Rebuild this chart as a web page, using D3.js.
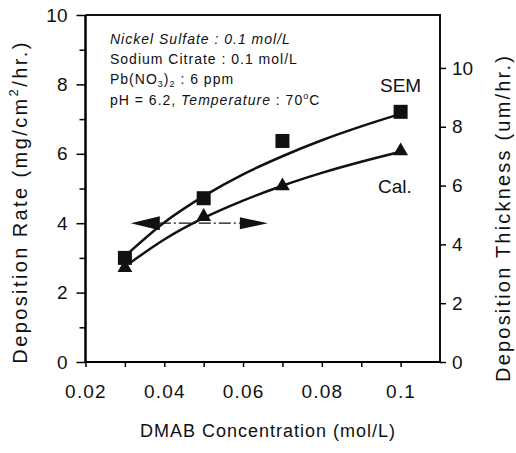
<!DOCTYPE html>
<html>
<head>
<meta charset="utf-8">
<script src="https://cdn.jsdelivr.net/npm/d3@7"></script>
<style>
  body { margin: 0; background: #fff; }
  svg { display: block; }
  text { font-family: "Liberation Sans", Arial, Helvetica, sans-serif; fill: #111; }
</style>
</head>
<body>
<div id="chart"></div>
<script>
// DMAB concentration of the measured points (mol/L)
var conc = [0.03, 0.05, 0.07, 0.1];
// measured deposition rate (mg/cm2/hr.)
var semRate = [3.0, 4.72, 6.37, 7.21];
var calRate = [2.72, 4.19, 5.07, 6.08];

// fitted curves
var fitConc = [0.031, 0.04, 0.05, 0.06, 0.07, 0.08, 0.09, 0.1];
var semFit = [3.15, 4.02, 4.78, 5.41, 5.93, 6.39, 6.79, 7.15];
var calFit = [2.83, 3.53, 4.15, 4.65, 5.08, 5.45, 5.77, 6.06];

// tick values
var xTicks = [0.02, 0.03, 0.04, 0.05, 0.06, 0.07, 0.08, 0.09, 0.1];
var xLabels = [0.02, 0.04, 0.06, 0.08, 0.1];
var leftTicks = [0, 2, 4, 6, 8, 10];
var leftMinor = [1, 3, 5, 7, 9];
var rightTicks = [0, 2, 4, 6, 8, 10];

// double-headed arrow at rate 4 (conc range)
var arrowConc = [0.0315, 0.0663];
var arrowRate = 4;

var notes = ["Nickel Sulfate : 0.1 mol/L", "Sodium Citrate : 0.1 mol/L"];

var width = 516, height = 453;
var svg = d3.select("#chart").append("svg")
    .attr("width", width)
    .attr("height", height);

var x = d3.scaleLinear().domain([0.02, 0.11]).range([85.5, 440]);
var y = d3.scaleLinear().domain([0, 10]).range([362, 15]);
var y2 = d3.scaleLinear().domain([0, 11.8]).range([362, 15]);

//frame
svg.append("path")
    .attr("d", "M" + x(0.02) + "," + y(10) + "H" + x(0.11) + "V" + y(0))
    .attr("fill", "none")
    .attr("stroke", "#111")
    .attr("stroke-width", 2);

//bottom axis
var xAxis = svg.append("g")
    .attr("transform", "translate(0," + y(0) + ")")
    .call(d3.axisBottom(x).tickValues(xTicks).tickSize(5).tickPadding(18)
        .tickFormat(function(d) { return xLabels.some(function(v) { return Math.abs(v - d) < 1e-9; }) ? d3.format("~g")(d) : ""; }))
xAxis.select(".domain").attr("d", "M" + x(0.02) + ",0H" + x(0.11)).attr("stroke-width", 2);
xAxis.selectAll(".tick line").attr("stroke-width", 1.5);
xAxis.selectAll("text").attr("font-size", 19).attr("letter-spacing", 1.2).attr("fill", "#111");

//left axis
var yMinor = svg.append("g")
    .attr("transform", "translate(" + x(0.02) + ",0)")
    .call(d3.axisLeft(y).tickValues(leftMinor).tickSize(6).tickFormat(""));
yMinor.select(".domain").remove();
yMinor.selectAll(".tick line").attr("stroke-width", 1.5);

var yAxis = svg.append("g")
    .attr("transform", "translate(" + x(0.02) + ",0)")
    .call(d3.axisLeft(y).tickValues(leftTicks).tickSize(9).tickPadding(9));
yAxis.select(".domain").attr("d", "M0," + y(0) + "V" + y(10)).attr("stroke-width", 2.5);
yAxis.selectAll(".tick line").attr("stroke-width", 1.5);
yAxis.selectAll("text").attr("font-size", 19).attr("fill", "#111");

//right axis
var yAxis2 = svg.append("g")
    .attr("transform", "translate(" + x(0.11) + ",0)")
    .call(d3.axisRight(y2).tickValues(rightTicks).tickSize(6).tickPadding(6));
yAxis2.select(".domain").remove();
yAxis2.selectAll(".tick line").attr("stroke-width", 1.5);
yAxis2.selectAll("text").attr("font-size", 19).attr("fill", "#111");

//axis titles
svg.append("text")
    .attr("transform", "translate(268,437)")
    .attr("text-anchor", "middle")
    .attr("font-size", 18)
    .attr("letter-spacing", 1)
    .text("DMAB Concentration (mol/L)");

var lt = svg.append("text")
    .attr("transform", "translate(27,202) rotate(-90)")
    .attr("text-anchor", "middle")
    .attr("font-size", 20)
    .attr("letter-spacing", 2.4);
lt.append("tspan").text("Deposition Rate (mg/cm");
lt.append("tspan").attr("font-size", 13).attr("dy", -9).text("2");
lt.append("tspan").attr("dy", 9).text("/hr.)");

svg.append("text")
    .attr("transform", "translate(510,218) rotate(-90)")
    .attr("text-anchor", "middle")
    .attr("font-size", 20)
    .attr("letter-spacing", 2.2)
    .text("Deposition Thickness (um/hr.)");

//curves
var line = d3.line()
    .x(function(d) { return x(d[0]); })
    .y(function(d) { return y(d[1]); })
    .curve(d3.curveMonotoneX);

[semFit, calFit].forEach(function(s) {
    svg.append("path")
        .datum(fitConc.map(function(c, i) { return [c, s[i]]; }))
        .attr("fill", "none")
        .attr("stroke", "#111")
        .attr("stroke-width", 2.5)
        .attr("d", line);
});

//markers
svg.selectAll("path.tri")
    .data(conc.map(function(c, i) { return [c, calRate[i]]; }))
    .enter().append("path")
    .attr("class", "tri")
    .attr("transform", function(d) { return "translate(" + x(d[0]) + "," + y(d[1]) + ")"; })
    .attr("d", d3.symbol().type(d3.symbolTriangle).size(95))
    .attr("fill", "#111");

svg.selectAll("rect.sq")
    .data(conc.map(function(c, i) { return [c, semRate[i]]; }))
    .enter().append("rect")
    .attr("class", "sq")
    .attr("x", function(d) { return x(d[0]) - 7; })
    .attr("y", function(d) { return y(d[1]) - 7; })
    .attr("width", 14)
    .attr("height", 14)
    .attr("fill", "#111");

//arrow
var ay = y(arrowRate);
var ax0 = x(arrowConc[0]), ax1 = x(arrowConc[1]);
svg.append("line")
    .attr("x1", ax0 + 28).attr("x2", ax1 - 28)
    .attr("y1", ay).attr("y2", ay)
    .attr("stroke", "#111")
    .attr("stroke-width", 1.2)
    .attr("stroke-dasharray", "12,3,2,3");
svg.append("path")
    .attr("d", "M" + ax0 + "," + ay + "L" + (ax0 + 29) + "," + (ay - 7) + "L" + (ax0 + 29) + "," + (ay + 7) + "Z")
    .attr("fill", "#111");
svg.append("path")
    .attr("d", "M" + ax1 + "," + ay + "L" + (ax1 - 28) + "," + (ay - 6) + "L" + (ax1 - 28) + "," + (ay + 6) + "Z")
    .attr("fill", "#111");

//series labels
svg.append("text").attr("x", 380).attr("y", 92).attr("font-size", 19).text("SEM");
svg.append("text").attr("x", 378).attr("y", 193).attr("font-size", 19).text("Cal.");

//conditions
var nt = svg.append("g").attr("font-size", 14).attr("letter-spacing", 1);
nt.append("text").attr("x", 110).attr("y", 44).attr("font-style", "italic").text(notes[0]);
nt.append("text").attr("x", 110).attr("y", 64).text(notes[1]);
var t3 = nt.append("text").attr("x", 110).attr("y", 84);
t3.append("tspan").text("Pb(NO");
t3.append("tspan").attr("font-size", 9).attr("dy", 3).text("3");
t3.append("tspan").attr("dy", -3).text(")");
t3.append("tspan").attr("font-size", 9).attr("dy", 3).text("2");
t3.append("tspan").attr("dy", -3).text(" : 6 ppm");
var t4 = nt.append("text").attr("x", 110).attr("y", 105);
t4.append("tspan").text("pH = 6.2, ");
t4.append("tspan").attr("font-style", "italic").text("Temperature");
t4.append("tspan").text(" : 70");
t4.append("tspan").attr("font-size", 9).attr("dy", -6).text("o");
t4.append("tspan").attr("dy", 6).text("C");
</script>
</body>
</html>
